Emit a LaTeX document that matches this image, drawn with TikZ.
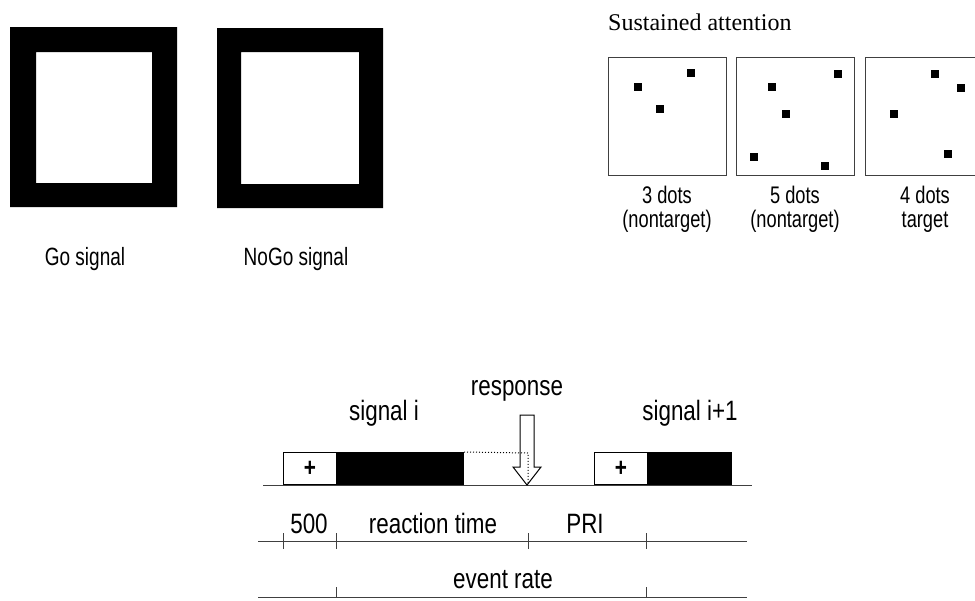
\documentclass[tikz,border=0pt]{standalone}
\usepackage{fontspec}
\setmainfont{Liberation Serif}
\newfontfamily\narrowsf[FakeStretch=0.8]{Liberation Sans}
\newfontfamily\topsf[FakeStretch=0.76]{Liberation Sans}
\usetikzlibrary{positioning}

\begin{document}
\begin{tikzpicture}[
    x=1pt, y=-1pt,
    frame/.style={fill=black, even odd rule},
    panel/.style={draw=black!75, line width=1pt},
    dot/.style={rectangle, fill=black, minimum size=8pt, inner sep=0pt},
    toplbl/.style={font={\topsf\fontsize{25}{20}\selectfont}, inner sep=0pt, anchor=base},
    dotlbl/.style={font={\topsf\fontsize{24}{24}\selectfont}, inner sep=0pt, anchor=north, align=center},
    botlbl/.style={font={\narrowsf\fontsize{28}{30}\selectfont}, inner sep=0pt, anchor=base},
    cue/.style={rectangle, draw=black, fill=white, line width=1pt, minimum height=32pt, inner sep=0pt, anchor=south west, font={\narrowsf\bfseries\fontsize{26}{26}\selectfont}},
    stim/.style={rectangle, draw=black, fill=black, line width=1pt, minimum height=32pt, inner sep=0pt, anchor=south west},
    axis/.style={draw=black!75, line width=1pt}
]
\useasboundingbox (0,0) rectangle (975,600);

% Go / NoGo frames
\fill[frame] (10,27) rectangle (177,207) (36,52) rectangle (152,183);
\fill[frame] (217,28) rectangle (383,208) (241,52) rectangle (359,184);
\node[toplbl] (go) at (85,265) {Go signal};
\node[toplbl] (nogo) at (296,265) {NoGo signal};

% sustained attention panels
\node[anchor=base west, inner sep=0pt, font=\fontsize{24}{28}\selectfont] (sust) at (608,30) {Sustained attention};
\draw[panel] (608,57) rectangle (726,175);
\draw[panel] (736,57) rectangle (854,175);
\draw[panel] (865,57) rectangle (983,175);
\foreach \x/\y [count=\i] in {691/73, 638/87, 660/109,
    838/74, 772/87, 786/114, 754/157, 825/166,
    935/74, 961/88, 894/114, 948/154}
  \node[dot] (dot\i) at (\x,\y) {};
\node[dotlbl] (lbl1) at (667,186) {3 dots\\(nontarget)};
\node[dotlbl] (lbl2) at (795,186) {5 dots\\(nontarget)};
\node[dotlbl] (lbl3) at (925,186) {4 dots\\target};

% trial sequence
\draw[axis] (263,485) -- (752,485);
\node[cue, minimum width=53pt] (cue1) at (283,485) {+};
\node[stim, minimum width=126pt] (sig1) at (cue1.south east) {};
\draw[line width=1pt, dotted] (sig1.north east) -- (528,453) -- (528,485);
\node[cue, minimum width=53pt] (cue2) at (594,485) {+};
\node[stim, minimum width=83pt] (sig2) at (cue2.south east) {};
\draw[line width=1pt] (520,415) -- (534,415) -- (534,467) -- (541,467) -- (527,485)
    -- (513,467) -- (520,467) -- cycle;
\node[botlbl] (resp) at (517,395) {response};
\node[botlbl] (sigi) at (384,420) {signal i};
\node[botlbl] (signext) at (690,420) {signal i+1};

% time axes
\draw[axis] (258,541) -- (747,541);
\foreach \t in {283,336,528,646}
  \draw[axis] (\t,533) -- (\t,549);
\node[botlbl] (fix) at (309,533) {500};
\node[botlbl] (rt) at (433,533) {reaction time};
\node[botlbl] (pri) at (585,533) {PRI};

\draw[axis] (258,597) -- (747,597);
\foreach \t in {336,646}
  \draw[axis] (\t,587) -- (\t,597);
\node[botlbl] (rate) at (503,588) {event rate};

\end{tikzpicture}
\end{document}
